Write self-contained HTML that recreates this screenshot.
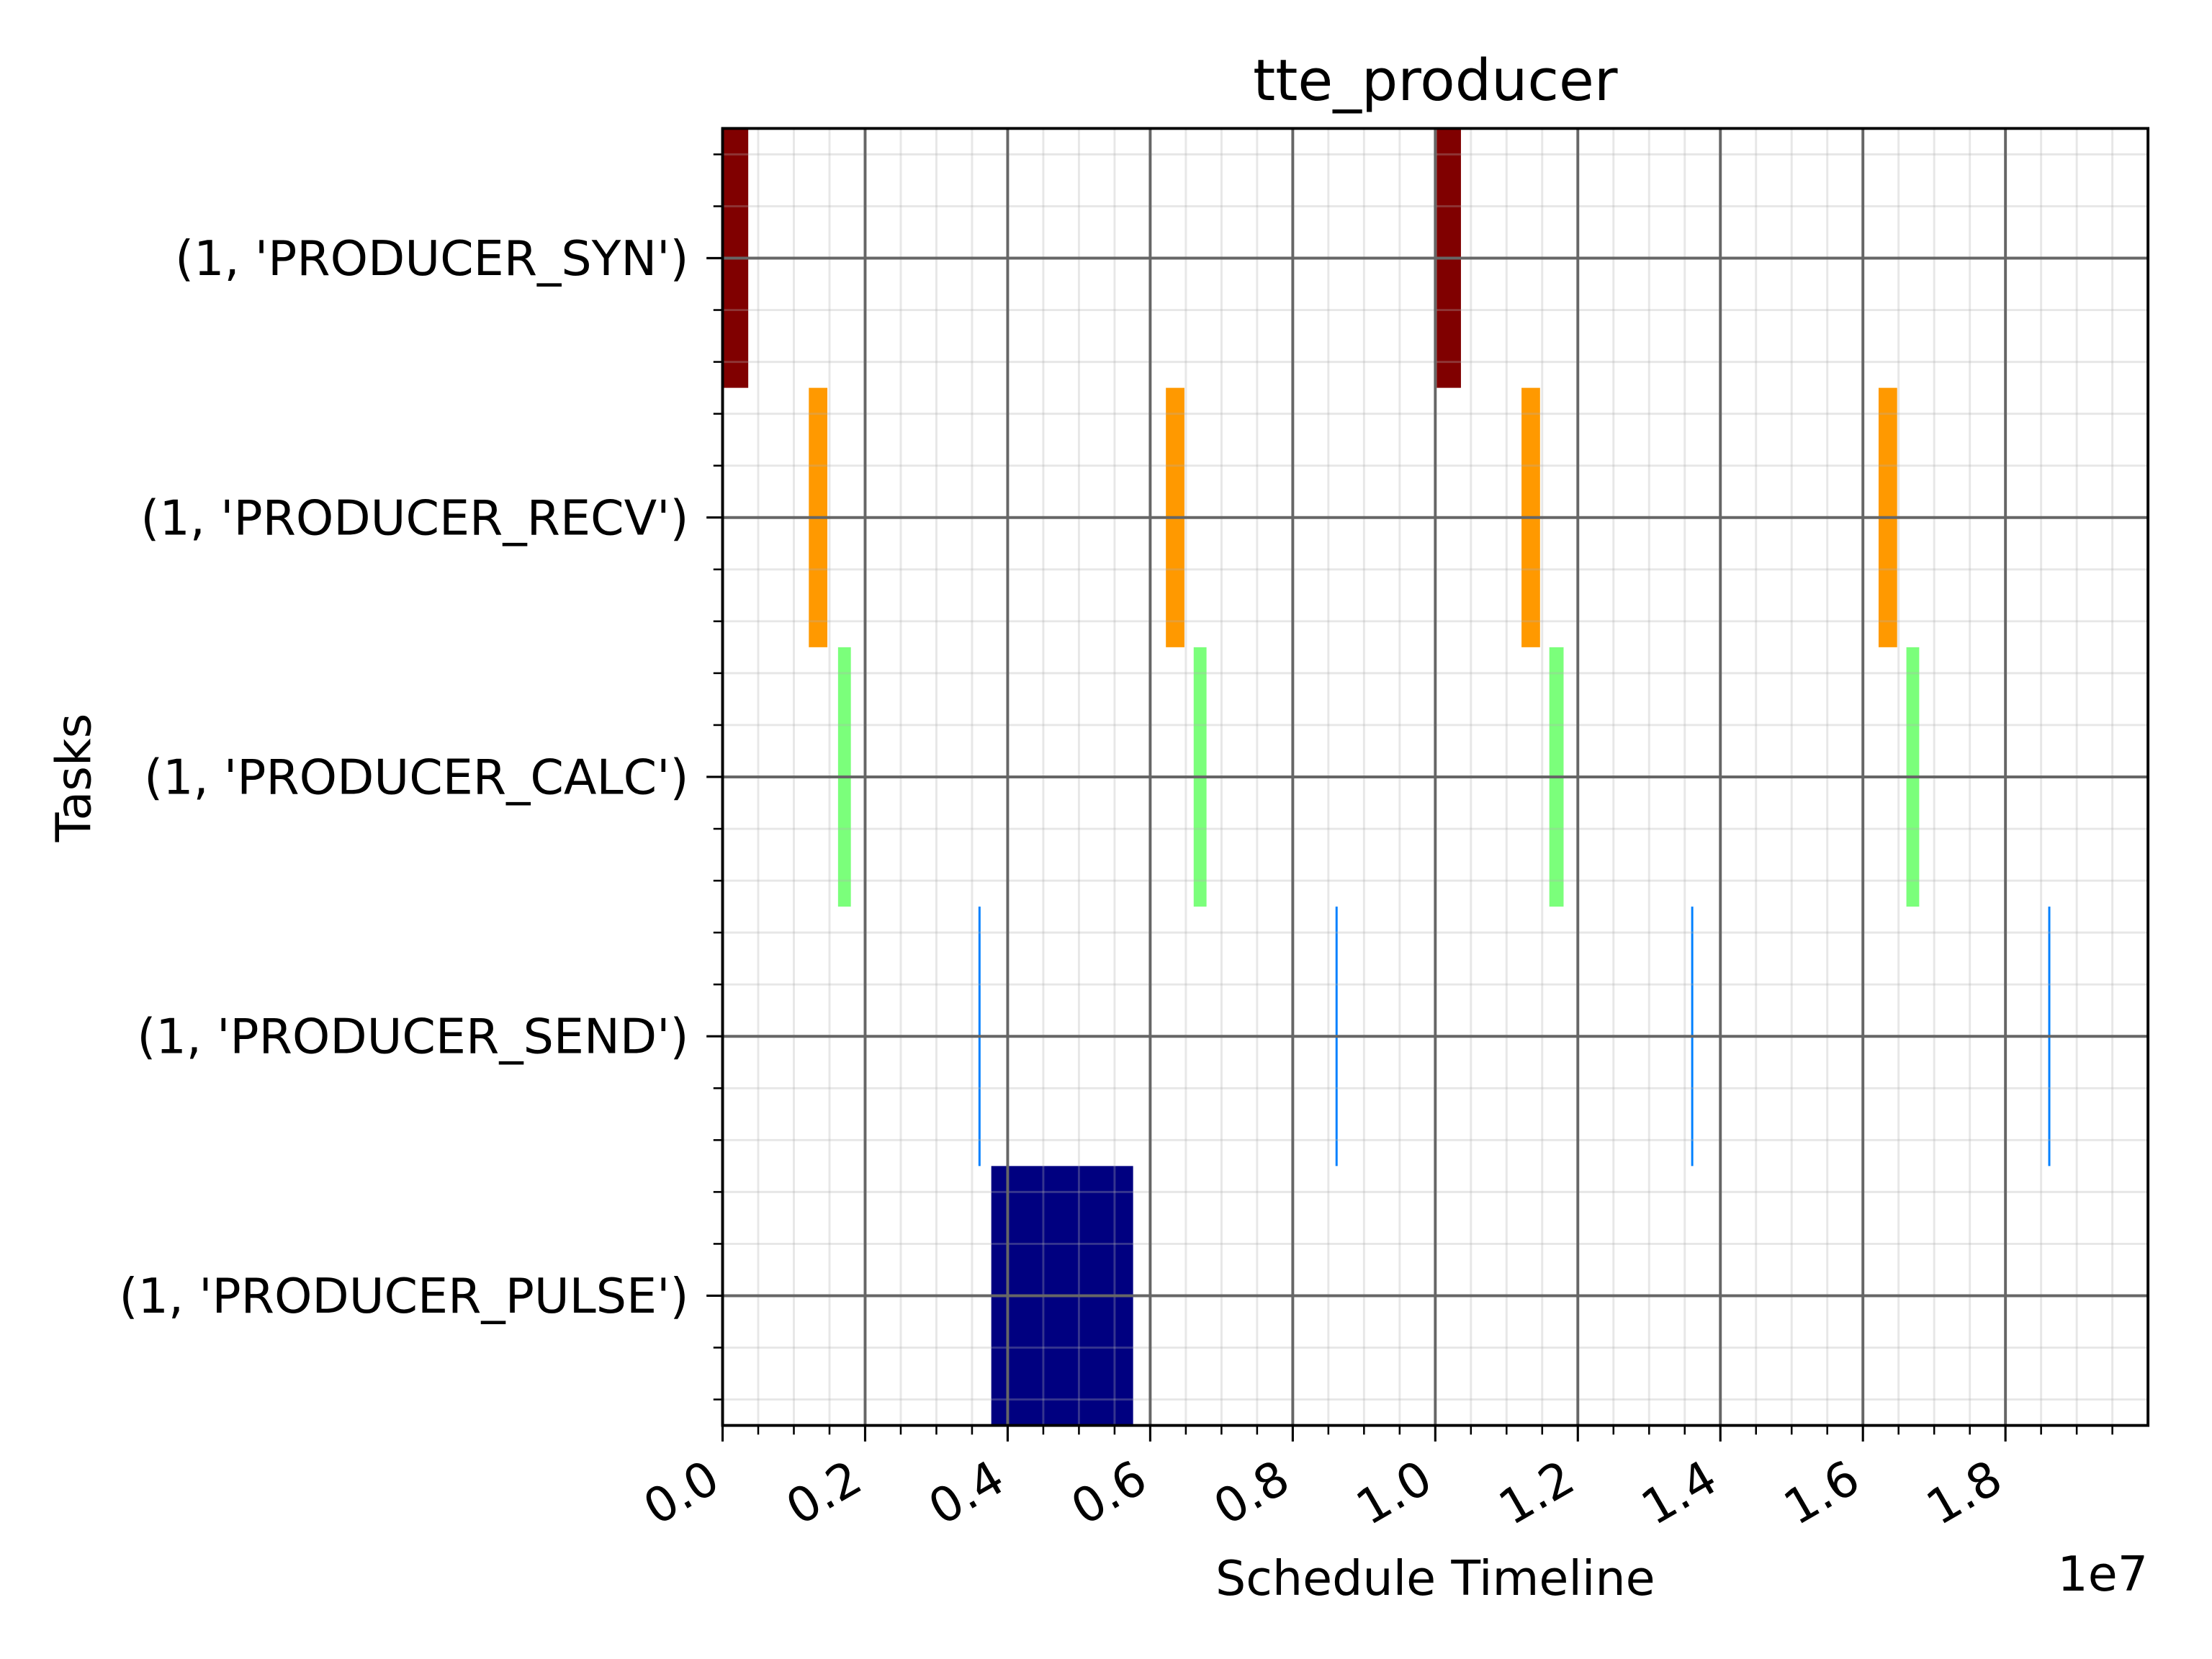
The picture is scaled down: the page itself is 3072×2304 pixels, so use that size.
<!DOCTYPE html>
<html><head><meta charset="utf-8"><style>
html,body{margin:0;padding:0;background:#fff}
svg{display:block}
text{font-family:"DejaVu Sans","Liberation Sans",sans-serif;fill:#000}
</style></head><body>
<svg id="chart" width="3072" height="2304" viewBox="0 0 1567.35 1175.5" xmlns="http://www.w3.org/2000/svg">
<rect x="0" y="0" width="1567.35" height="1175.5" fill="#fff"/>
<g id="bars"></g>
<g id="grid"></g>
<g id="axes"></g>
<text x="1017" y="71" font-size="40.5" text-anchor="middle">tte_producer</text>
<text x="1017" y="1130" font-size="34" text-anchor="middle">Schedule Timeline</text>
<text x="1522" y="1127" font-size="34" text-anchor="end">1e7</text>
<text x="0" y="0" font-size="34" text-anchor="middle" transform="translate(64,551) rotate(-90)">Tasks</text>
</svg>
<script>
const tasks = ["(1, 'PRODUCER_SYN')", "(1, 'PRODUCER_RECV')", "(1, 'PRODUCER_CALC')", "(1, 'PRODUCER_SEND')", "(1, 'PRODUCER_PULSE')"];
const taskColors = ["#800000", "#ff9900", "#7bff7b", "#0080ff", "#000080"];
const synStarts = [0, 1.002e7];
const synDur = [0.036e7, 0.034e7];
const recvStarts = [0.121e7, 0.622e7, 1.121e7, 1.622e7];
const recvDur = [0.026e7, 0.026e7, 0.026e7, 0.026e7];
const calcStarts = [0.162e7, 0.661e7, 1.160e7, 1.661e7];
const calcDur = [0.018e7, 0.018e7, 0.02e7, 0.018e7];
const sendStarts = [0.359e7, 0.860e7, 1.359e7, 1.860e7];
const sendDur = [0.003e7, 0.003e7, 0.003e7, 0.003e7];
const pulseStarts = [0.377e7];
const pulseDur = [0.199e7];
const xTickValues = [0, 0.2e7, 0.4e7, 0.6e7, 0.8e7, 1.0e7, 1.2e7, 1.4e7, 1.6e7, 1.8e7];
const xTickLabels = ["0.0", "0.2", "0.4", "0.6", "0.8", "1.0", "1.2", "1.4", "1.6", "1.8"];
const xMin = 0, xMax = 2.0e7;

const NS = "http://www.w3.org/2000/svg";
const L = 512, R = 1522, T = 91, B = 1010;
function xs(v){ return L + (v - xMin) / (xMax - xMin) * (R - L); }
function ys(c){ return T + (c + 0.5) / tasks.length * (B - T); }
function mk(tag, attrs, parent){
  const e = document.createElementNS(NS, tag);
  for (const k in attrs) e.setAttribute(k, attrs[k]);
  parent.appendChild(e);
  return e;
}
const gb = document.getElementById('bars');
const gg = document.getElementById('grid');
const ga = document.getElementById('axes');
const series = [[synStarts, synDur], [recvStarts, recvDur], [calcStarts, calcDur], [sendStarts, sendDur], [pulseStarts, pulseDur]];
series.forEach((s, i) => {
  s[0].forEach((st, j) => {
    const r = mk('rect', {x: xs(st), y: ys(i - 0.5), width: xs(st + s[1][j]) - xs(st), height: ys(i + 0.5) - ys(i - 0.5), fill: taskColors[i]}, gb);
    
    
  });
});
for (let v = 0; v <= xMax + 1; v += 0.05e7) {
  const l = mk('line', {x1: xs(v), x2: xs(v), y1: T, y2: B, stroke: '#b0b0b0', 'stroke-opacity': 0.3, 'stroke-width': 1.5}, gg);
  
  
}
for (let k = -2; k <= 22; k++) {
  if (k % 5 === 0) continue;
  const c = k * 0.2;
  if (c < -0.5 || c > tasks.length - 0.5) continue;
  const l = mk('line', {x1: L, x2: R, y1: ys(c), y2: ys(c), stroke: '#b0b0b0', 'stroke-opacity': 0.3, 'stroke-width': 1.5}, gg);
  
  
  const t = mk('line', {x1: L - 6.5, x2: L, y1: ys(c), y2: ys(c), stroke: '#000', 'stroke-width': 1.3}, ga);
  
  
}
xTickValues.forEach((v, i) => {
  const l = mk('line', {x1: xs(v), x2: xs(v), y1: T, y2: B, stroke: '#666', 'stroke-width': 2}, gg);
  
  
  const t = mk('line', {x1: xs(v), x2: xs(v), y1: B, y2: B + 11.4, stroke: '#000', 'stroke-width': 1.6}, ga);
  
  
  const tx = xs(v), ty = B + 22.8 + 21.5;
  const lab = mk('text', {x: tx, y: ty, 'font-size': 34, 'text-anchor': 'end', transform: 'rotate(-30 ' + tx + ' ' + ty + ')'}, ga);
  lab.textContent = xTickLabels[i];
  
  
});
for (let v = 0.05e7; v < xMax; v += 0.05e7) {
  if (Math.abs(v / 0.2e7 - Math.round(v / 0.2e7)) < 1e-6) continue;
  const t = mk('line', {x1: xs(v), x2: xs(v), y1: B, y2: B + 6.5, stroke: '#000', 'stroke-width': 1.3}, ga);
  
  
}
tasks.forEach((name, i) => {
  const l = mk('line', {x1: L, x2: R, y1: ys(i), y2: ys(i), stroke: '#666', 'stroke-width': 2}, gg);
  
  
  const t = mk('line', {x1: L - 11.4, x2: L, y1: ys(i), y2: ys(i), stroke: '#000', 'stroke-width': 1.6}, ga);
  
  
  const lab = mk('text', {x: L - 24, y: ys(i) + 12, 'font-size': 34, 'text-anchor': 'end'}, ga);
  lab.textContent = name;
  
  
});
const frame = mk('rect', {x: L, y: T, width: R - L, height: B - T, fill: 'none', stroke: '#000', 'stroke-width': 2}, ga);


</script>
</body></html>
